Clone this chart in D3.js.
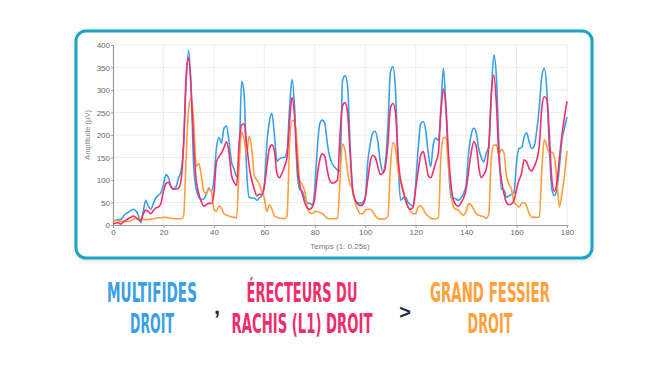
<!DOCTYPE html>
<html>
<head>
<meta charset="utf-8">
<script src="https://cdn.jsdelivr.net/npm/d3@7"></script>
<style>
  body { margin: 0; background: #fff; }
  svg { display: block; }
</style>
</head>
<body>
<div id="chart"></div>
<script>
// one value per sample, index = time (1 = 0.25s)
var multifides = [8,10,12,12,18,25,28,32,35,32,22,5,30,55,42,35,48,60,66,72,
  90,112,105,85,80,85,105,120,180,320,388,300,130,80,62,57,58,68,82,75,
  100,170,195,182,215,220,185,140,125,108,150,320,290,120,62,60,60,55,60,65,
  90,180,230,248,200,142,147,150,150,165,260,323,260,120,80,75,60,50,48,45,
  80,170,225,233,225,180,150,135,128,122,120,320,332,310,180,75,55,50,48,50,
  60,140,180,205,208,185,140,118,140,220,340,352,300,150,55,60,62,50,45,42,
  90,170,225,230,210,160,130,180,193,188,260,348,260,140,60,60,58,55,60,70,
  90,160,200,215,205,170,150,140,160,175,290,378,330,180,80,78,62,65,68,72,
  140,170,172,195,205,185,170,175,210,260,330,348,300,170,80,65,80,130,190,215,
  240];
var erecteurs = [3,4,5,2,6,10,14,17,20,17,12,10,25,33,30,25,32,38,40,48,
  75,92,95,85,80,80,82,100,180,330,372,300,180,100,70,52,42,45,48,48,
  70,140,152,160,172,185,160,110,95,88,180,222,225,180,130,100,80,65,68,68,
  85,130,170,178,165,115,105,115,130,150,230,283,240,140,90,70,50,38,35,40,
  60,110,145,158,152,120,98,93,95,100,200,265,272,250,160,80,55,47,43,45,
  60,100,140,155,150,130,112,115,130,180,260,270,250,150,100,75,55,40,35,40,
  80,120,155,163,140,110,105,120,140,160,250,302,260,160,90,55,45,42,50,60,
  80,120,160,185,175,130,105,112,125,175,290,333,270,150,100,70,50,45,47,55,
  80,100,115,145,140,125,120,130,145,175,260,285,280,200,100,75,95,150,200,240,
  275];
var grandFessier = [10,10,9,8,8,8,8,9,12,15,14,13,12,12,12,13,14,15,16,16,
  17,17,16,15,14,14,14,14,20,150,260,282,230,130,137,110,75,70,80,75,
  35,30,42,38,25,22,20,18,17,15,130,207,190,160,197,170,110,100,90,75,
  60,30,45,35,20,17,15,15,14,20,180,232,230,180,100,90,75,40,28,25,
  30,30,28,25,20,15,14,14,14,15,100,180,165,120,90,80,50,35,25,25,
  33,35,35,30,20,15,13,13,14,20,130,183,170,120,100,80,55,40,30,25,
  25,40,43,35,25,20,15,14,14,16,150,193,195,130,80,40,35,33,25,22,
  30,47,45,35,25,22,20,18,15,25,150,177,178,155,168,160,110,90,80,50,
  45,40,48,50,42,25,18,17,17,18,120,190,175,160,162,150,100,40,70,110,
  165];

var yTicks = [0, 50, 100, 150, 200, 250, 300, 350, 400];
var xTicks = [0, 20, 40, 60, 80, 100, 120, 140, 160, 180];

var series = [
  { name: "multifides", values: multifides, color: "#3a9fe8" },
  { name: "grandFessier", values: grandFessier, color: "#ff9d3a" },
  { name: "erecteurs", values: erecteurs, color: "#f0306e" }
];

var W = 672, H = 365;
var mLeft = 113, mRight = 567, mTop = 45, mBottom = 225;

var svg = d3.select("#chart").append("svg")
    .attr("width", W)
    .attr("height", H);

// card
var defs = svg.append("defs");
var f = defs.append("filter").attr("id", "shadow")
    .attr("x", "-5%").attr("y", "-5%").attr("width", "110%").attr("height", "115%");
f.append("feDropShadow").attr("dx", 0).attr("dy", 1).attr("stdDeviation", 2)
    .attr("flood-color", "#000").attr("flood-opacity", 0.15);

svg.append("rect")
    .attr("x", 76).attr("y", 31)
    .attr("width", 516).attr("height", 227)
    .attr("rx", 10).attr("ry", 10)
    .attr("fill", "#fff")
    .attr("stroke", "#1aa5c2")
    .attr("stroke-width", 3)
    .attr("filter", "url(#shadow)");

var x = d3.scaleLinear().domain([0, 180]).range([mLeft, mRight]);
var y = d3.scaleLinear().domain([0, 400]).range([mBottom, mTop]);

// grid
svg.append("g").selectAll("line")
    .data(yTicks.slice(1))
    .enter().append("line")
    .attr("x1", mLeft).attr("x2", mRight)
    .attr("y1", function(d) { return y(d); })
    .attr("y2", function(d) { return y(d); })
    .attr("stroke", "#ececec")
    .attr("stroke-width", 1);

svg.append("g").selectAll("line")
    .data(xTicks.slice(1))
    .enter().append("line")
    .attr("y1", mTop).attr("y2", mBottom)
    .attr("x1", function(d) { return x(d); })
    .attr("x2", function(d) { return x(d); })
    .attr("stroke", "#ececec")
    .attr("stroke-width", 1);

// axes
var xAxis = svg.append("g")
    .attr("transform", "translate(0," + mBottom + ")")
    .call(d3.axisBottom(x).tickValues(xTicks).tickSize(3).tickPadding(1));
var yAxis = svg.append("g")
    .attr("transform", "translate(" + mLeft + ",0)")
    .call(d3.axisLeft(y).tickValues(yTicks).tickSize(2).tickPadding(1));

[xAxis, yAxis].forEach(function(a) {
  a.select(".domain").attr("stroke", "#9a9a9a").attr("stroke-width", 1.2);
  a.selectAll(".tick line").attr("stroke", "#9a9a9a");
  a.selectAll("text")
    .attr("fill", "#666")
    .attr("font-family", "Liberation Sans, Arial, sans-serif")
    .attr("font-size", 8);
});

svg.append("text")
    .attr("transform", "translate(90," + ((mTop + mBottom) / 2) + ") rotate(-90)")
    .attr("text-anchor", "middle")
    .attr("fill", "#8a8a8a")
    .attr("font-family", "Liberation Sans, Arial, sans-serif")
    .attr("font-size", 7.5)
    .text("Amplitude (µV)");

svg.append("text")
    .attr("x", (mLeft + mRight) / 2)
    .attr("y", 249)
    .attr("text-anchor", "middle")
    .attr("fill", "#7a7a7a")
    .attr("font-family", "Liberation Sans, Arial, sans-serif")
    .attr("font-size", 8)
    .text("Temps (1: 0.25s)");

// lines
var line = d3.line()
    .x(function(d, i) { return x(i); })
    .y(function(d) { return y(d); })
    .curve(d3.curveMonotoneX);

svg.append("g").selectAll("path")
    .data(series)
    .enter().append("path")
    .attr("d", function(s) { return line(s.values); })
    .attr("fill", "none")
    .attr("stroke", function(s) { return s.color; })
    .attr("stroke-width", 1.6)
    .attr("stroke-linejoin", "round");

// caption: condensed by a horizontal scale so the box matches the glyphs
var captions = [
  { lines: ["MULTIFIDES", "DROIT"], cx: 152, widths: [90, 44], color: "#3a9fe6" },
  { lines: ["ÉRECTEURS DU", "RACHIS (L1) DROIT"], cx: 302, widths: [111, 141], color: "#f02d6b" },
  { lines: ["GRAND FESSIER", "DROIT"], cx: 490, widths: [120, 45], color: "#ffa03a" }
];

captions.forEach(function(c) {
  c.lines.forEach(function(t, i) {
    var g = svg.append("g");
    var txt = g.append("text")
      .attr("x", 0)
      .attr("y", 0)
      .attr("text-anchor", "middle")
      .attr("fill", c.color)
      .attr("font-family", "Liberation Sans Narrow, DejaVu Sans Condensed, sans-serif")
      .attr("font-weight", "bold")
      .attr("font-size", 26)
      .text(t);
    var natural = txt.node().getComputedTextLength();
    g.attr("transform", "translate(" + c.cx + "," + (302 + i * 31) + ") scale(" + (c.widths[i] / natural) + ",1)");
  });
});

svg.append("text")
    .attr("x", 217).attr("y", 314)
    .attr("text-anchor", "middle")
    .attr("fill", "#1d2a4a")
    .attr("font-family", "Liberation Sans, Arial, sans-serif")
    .attr("font-weight", "bold")
    .attr("font-size", 22)
    .text(",");

svg.append("text")
    .attr("x", 405).attr("y", 319)
    .attr("text-anchor", "middle")
    .attr("fill", "#1d2a4a")
    .attr("font-family", "Liberation Sans, Arial, sans-serif")
    .attr("font-weight", "bold")
    .attr("font-size", 20)
    .text(">");
</script>
</body>
</html>
